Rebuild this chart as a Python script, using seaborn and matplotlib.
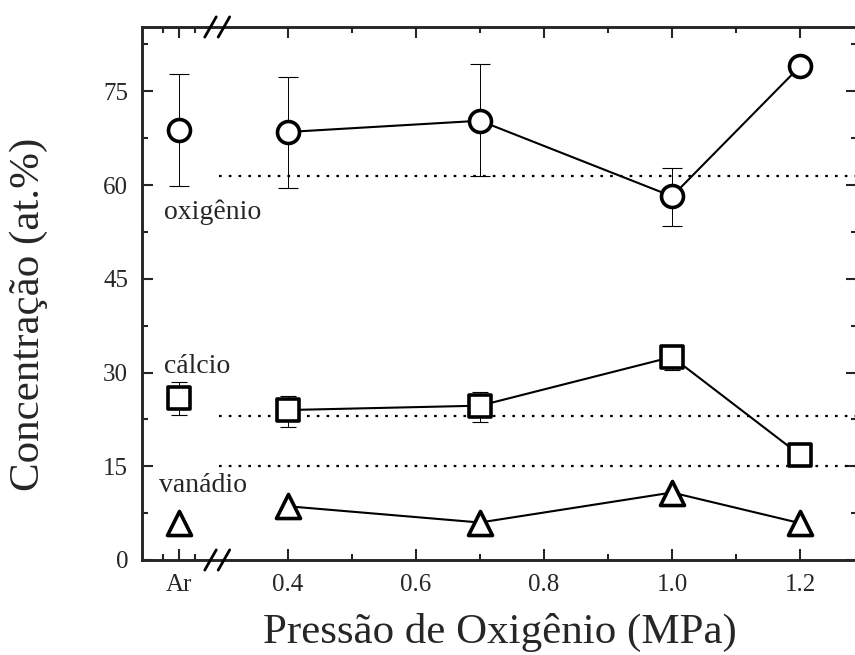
import matplotlib
matplotlib.use("Agg")
import matplotlib.pyplot as plt
import seaborn as sns
import numpy as np
import pandas as pd

# Oxygen pressure (MPa); the argon reference sample sits left of the axis break
pressure = [0.4, 0.7, 1.0, 1.2]
ar_pos = 0.23

# Atomic concentrations (at.%) and error bars
oxigenio = [68.5, 70.3, 58.2, 79.0]
oxigenio_err_lo = [8.9, 8.9, 4.7, 0.0]
oxigenio_err_hi = [8.8, 9.1, 4.5, 0.0]
oxigenio_ar, oxigenio_ar_err = 68.8, [8.9, 8.9]

calcio = [24.0, 24.7, 32.5, 16.8]
calcio_err_lo = [2.7, 2.6, 2.1, 0.0]
calcio_err_hi = [2.3, 2.2, 1.0, 0.0]
calcio_ar, calcio_ar_err = 25.9, [2.7, 2.6]

vanadio = [8.6, 6.0, 10.8, 5.9]
vanadio_ar = 6.0

# Nominal composition reference levels
ref_levels = [61.4, 23.1, 15.1]

xtick_pos = [ar_pos, 0.4, 0.6, 0.8, 1.0, 1.2]
xtick_labels = ["Ar", "0.4", "0.6", "0.8", "1.0", "1.2"]

sns.set_style("ticks")
plt.rcParams["font.family"] = ["Liberation Serif", "DejaVu Serif"]

fig = plt.figure(figsize=(8.55, 6.55), dpi=100)
ax = fig.add_axes([142 / 855, 1 - 560 / 655, 715 / 855, 533 / 655])

df = pd.DataFrame({
    "p": pressure * 3,
    "c": oxigenio + calcio + vanadio,
    "el": ["oxigênio"] * 4 + ["cálcio"] * 4 + ["vanádio"] * 4,
})

# Connecting lines (argon sample not connected)
sns.lineplot(data=df, x="p", y="c", units="el", estimator=None, color="black",
             lw=1.5, ax=ax, legend=False, zorder=2)

# Reference levels
for lvl in ref_levels:
    ax.hlines(lvl, 0.292, 1.3, colors="black", linestyles=(0, (1.2, 3.2)),
              lw=1.6, zorder=1)

# Error bars
eb = dict(fmt="none", ecolor="black", elinewidth=0.7, capthick=0.8, zorder=2)
ax.errorbar(pressure, oxigenio, yerr=[oxigenio_err_lo, oxigenio_err_hi], capsize=7, **eb)
ax.errorbar([ar_pos], [oxigenio_ar], yerr=[[oxigenio_ar_err[0]], [oxigenio_ar_err[1]]],
            capsize=7, **eb)
ax.errorbar(pressure, calcio, yerr=[calcio_err_lo, calcio_err_hi], capsize=6, **eb)
ax.errorbar([ar_pos], [calcio_ar], yerr=[[calcio_ar_err[0]], [calcio_ar_err[1]]],
            capsize=6, **eb)

# Markers
mk = dict(facecolor="white", edgecolor="black", linewidth=2.6, zorder=3, ax=ax, legend=False)
sns.scatterplot(x=pressure + [ar_pos], y=oxigenio + [oxigenio_ar], marker="o", s=250, **mk)
sns.scatterplot(x=pressure + [ar_pos], y=calcio + [calcio_ar], marker="s", s=230, **mk)
sns.scatterplot(x=pressure + [ar_pos], y=vanadio + [vanadio_ar], marker="^", s=300, **mk)

# Element labels
ax.text(0.206, 55.6, "oxigênio", fontsize=20, va="center", ha="left")
ax.text(0.206, 30.9, "cálcio", fontsize=20, va="center", ha="left")
ax.text(0.198, 12.0, "vanádio", fontsize=20, va="center", ha="left")

ax.set_xlim(0.172, 1.289)
ax.set_ylim(0, 85.3)
ax.set_xticks(xtick_pos)
ax.set_xticklabels(xtick_labels)
ax.set_xticks([0.205, 0.255, 0.5, 0.7, 0.9, 1.1], minor=True)
ax.set_yticks([0, 15, 30, 45, 60, 75])
ax.set_yticks(np.arange(7.5, 85, 15), minor=True)

for s in ax.spines.values():
    s.set_linewidth(2.1)
ax.tick_params(which="both", direction="in", top=True, right=True, width=1.5,
               labelsize=18)
ax.tick_params(axis="y", pad=10)
ax.tick_params(axis="x", pad=10)
ax.tick_params(which="major", length=8)
ax.tick_params(which="minor", length=4.5)

# Axis break marks
trans = ax.get_xaxis_transform()
for yb in (0.0, 1.0):
    for xb in (0.279, 0.300):
        ax.plot([xb - 0.009, xb + 0.009], [yb - 0.019, yb + 0.019], color="black",
                lw=2.0, transform=trans, clip_on=False, zorder=5)

ax.set_xlabel("Pressão de Oxigênio (MPa)", fontsize=31, labelpad=12)
ax.set_ylabel("Concentração (at.%)", fontsize=31)
ax.yaxis.label.set_va("center")
ax.yaxis.set_label_coords(-0.159, 0.4615)

fig.savefig("out.png", dpi=100)
